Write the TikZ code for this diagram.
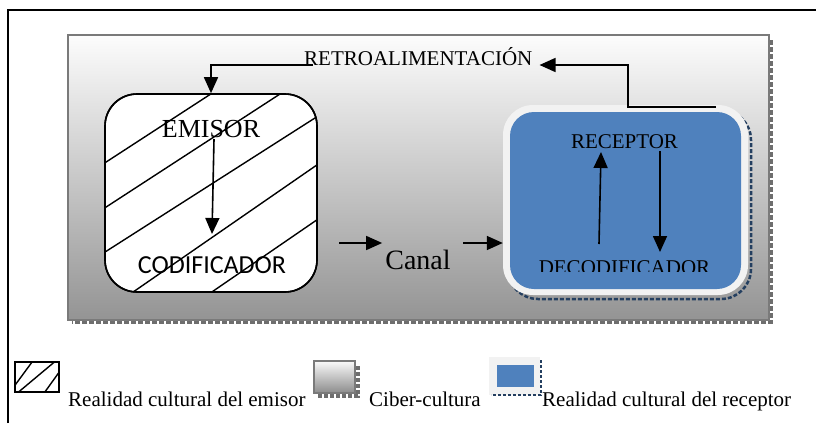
\documentclass[tikz,border=0pt]{standalone}
\usepackage{fontspec}
\setmainfont{Liberation Serif}
\newfontfamily\carlito{Carlito}
\usetikzlibrary{arrows.meta}
\definecolor{recblue}{HTML}{4F81BD}
\definecolor{shblue}{HTML}{243F60}
\definecolor{glowc}{HTML}{F2F2F2}
\definecolor{frgray}{HTML}{7A7A7A}
\definecolor{shgray}{HTML}{6E6E6E}
\begin{document}
\begin{tikzpicture}[x=1pt,y=-1pt,
  arr/.style={line width=1.6pt,-{Triangle[length=16pt,width=14pt]}},
  hatch/.style={line width=1.4pt},
  fs/.style={font=\fontsize{#1}{#1}\selectfont},
  txt/.style={inner sep=0pt}]
\useasboundingbox (0,0) rectangle (816,423);
\fill[white] (0,0) rectangle (816,423);
% outer frame
\draw[line width=1.5pt] (8,423) -- (8,10) -- (816,10);
% panel (ciber-cultura)
\draw[shgray, line width=3.5pt, dash pattern=on 5pt off 2pt] (771,40) -- (771,322) -- (72,322);
\shade[top color=black!1, middle color=black!12, bottom color=black!42] (68,35) rectangle (769,320);
\draw[frgray, line width=2pt] (68,35) rectangle (769,320);
% emisor box
\node[draw, line width=1.6pt, fill=white, rounded corners=32pt, minimum width=212pt, minimum height=198pt, inner sep=0pt] (emibox) at (211,193) {};
\begin{scope}
  \clip[rounded corners=32pt] (105,94) rectangle (317,292);
  \draw[hatch] (80,179) -- (240,75);
  \draw[hatch] (80,224) -- (300,81);
  \draw[hatch] (80,268) -- (340,102);
  \draw[hatch] (110,308) -- (340,149);
  \draw[hatch] (190,307) -- (340,204);
\end{scope}
\draw[line width=1.6pt, rounded corners=32pt] (105,94) rectangle (317,292);
\node[txt, fs=26, anchor=base] (emisor) at (211,137) {EMISOR};
\node[txt, anchor=base, font=\carlito\fontsize{26}{26}\selectfont] (codif) at (212,273) {CODIFICADOR};
\coordinate (e1) at (214,139);
\coordinate (e2) at (212,234);
\draw[arr] (e1) -- (e2);
% canal
\node[fs=28, anchor=base, inner sep=3pt] (canal) at (418,269) {Canal};
\coordinate (c1) at (339,243);
\coordinate (c2) at (463,243);
% receptor
\draw[shblue, line width=2.5pt, dash pattern=on 4pt off 2pt, rounded corners=30pt] (508,110) rectangle (751,299);
\node[fill=glowc, rounded corners=30pt, minimum width=245pt, minimum height=190pt, inner sep=0pt] (recglow) at (625.5,200) {};
\node[fill=recblue, rounded corners=24pt, minimum width=231pt, minimum height=177pt, inner sep=0pt] (recbox) at (625.5,200.5) {};
\node[txt, fs=21, anchor=base] (receptor) at (624.5,148) {RECEPTOR};
\begin{scope}
  \clip (510,112) rectangle (741,271);
  \node[txt, fs=21, anchor=base] (decod) at (624.5,274) {DECODIFICADOR};
\end{scope}
\coordinate (r1) at (599,244);
\coordinate (r2) at (601,152);
\coordinate (r3) at (660,151);
\coordinate (r4) at (660,252);
\draw[arr] (r1) -- (r2);
\draw[arr] (r3) -- (r4);
\draw[arr] (c1) -- (canal.west |- c1);
\draw[arr] (c2) -- (recglow.west |- c2);
% retroalimentacion
\node[txt, fs=21, anchor=base west] (retro) at (304,65) {RETROALIMENTACIÓN};
\coordinate (f1) at (716,107);
\draw[arr] (f1) -- (628,107) |- ([xshift=7pt]retro.base east);
\draw[arr] ([xshift=9pt]retro.base west) -| (emibox.north);
% legend
\node[draw, line width=1.5pt, minimum width=44pt, minimum height=30pt, inner sep=0pt] (leg1) at (37,377) {};
\begin{scope}
  \clip (15,362) rectangle (59,392);
  \draw[hatch] (10,392) -- (35,358);
  \draw[hatch] (15,395) -- (58,359);
  \draw[hatch] (42,396) -- (65,364);
\end{scope}
\draw[line width=1.5pt] (15,362) rectangle (59,392);
\node[txt, fs=21, anchor=base west] (lt1) at (68,406) {Realidad cultural del emisor};
\draw[shgray, line width=3.5pt, dash pattern=on 4pt off 2pt] (358,366) -- (358,396) -- (318,396);
\shade[top color=black!2, bottom color=black!45] (314,361) rectangle (355,393);
\draw[frgray, line width=1.5pt] (314,361) rectangle (355,393);
\node[txt, fs=21, anchor=base west] (lt2) at (369,406) {Ciber-cultura};
\fill[glowc] (489,357) rectangle (540,395);
\fill[recblue] (497,365) rectangle (534,387);
\draw[shblue, line width=1.8pt, dash pattern=on 3pt off 2pt] (541,360) -- (541,395) -- (491,395);
\node[txt, fs=21, anchor=base west] (lt3) at (542,406) {Realidad cultural del receptor};
\end{tikzpicture}
\end{document}
